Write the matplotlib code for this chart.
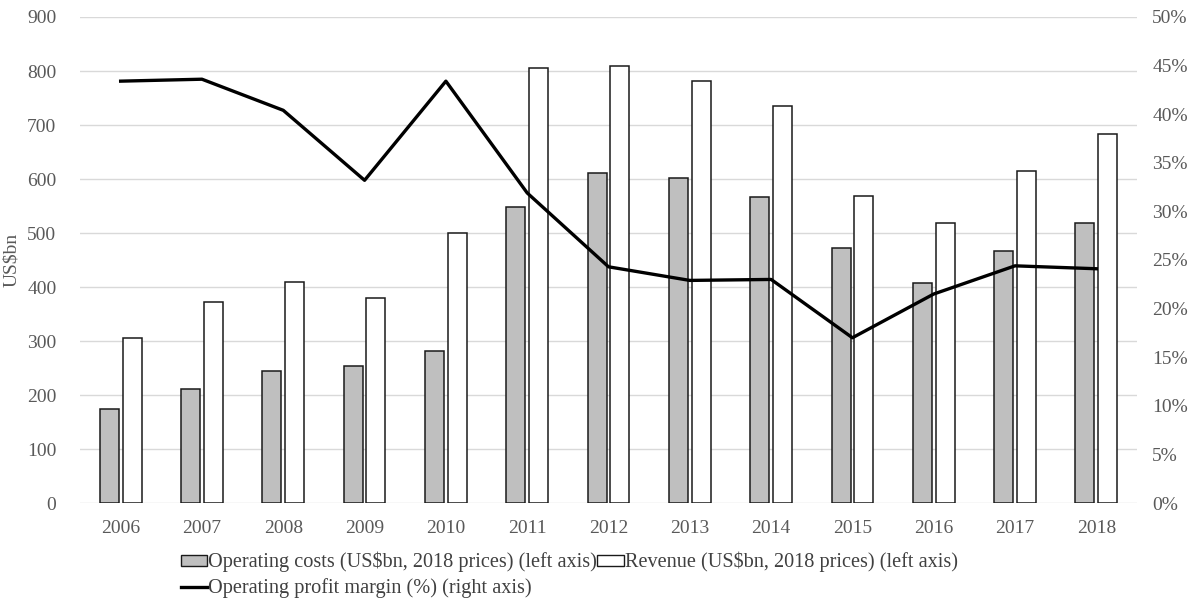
import matplotlib
matplotlib.use("Agg")
import matplotlib.pyplot as plt
import numpy as np
from matplotlib.patches import Patch
from matplotlib.lines import Line2D

years = ["2006", "2007", "2008", "2009", "2010", "2011", "2012",
         "2013", "2014", "2015", "2016", "2017", "2018"]
operating_costs = [174, 211, 244, 253, 282, 549, 611, 601, 567, 473, 408, 466, 518]
revenue = [305, 373, 410, 379, 500, 806, 809, 781, 736, 569, 518, 615, 684]
profit_margin = [43.4, 43.6, 40.4, 33.2, 43.4, 31.9, 24.3, 22.9, 23.0, 17.0, 21.5, 24.4, 24.1]

left_ticks = list(range(0, 901, 100))
right_ticks = list(range(0, 51, 5))

plt.rcParams['font.family'] = ['Liberation Serif', 'DejaVu Serif']
FS = 14
LFS = 14.6

fig = plt.figure(figsize=(11.96, 6.02), dpi=100)
ax = fig.add_axes([80/1196, 1-503/602, (1137-80)/1196, (503-17)/602])
ax2 = ax.twinx()

x = np.arange(len(years))
w = 0.234
off = 0.14
ax.bar(x - off, operating_costs, width=w, color='#bfbfbf', edgecolor='#1a1a1a', linewidth=1.1, zorder=3)
ax.bar(x + off, revenue, width=w, color='white', edgecolor='#1a1a1a', linewidth=1.1, zorder=3)

ax.set_ylim(0, 900)
ax.set_yticks(left_ticks)
ax.set_xlim(-0.5, len(years) - 0.5)
ax.set_xticks(x)
ax.set_xticklabels(years)
ax.grid(axis='y', color='#d9d9d9', linewidth=1, zorder=0)
ax.set_axisbelow(True)
for s in ax.spines.values():
    s.set_visible(False)
ax.tick_params(axis='both', length=0, colors='#595959', labelsize=FS)
ax.tick_params(axis='y', pad=17)
ax.tick_params(axis='x', pad=12)
ax.set_ylabel("US$bn", color='#595959', fontsize=FS)
ax.yaxis.set_label_coords(-60/1057, 0.5)

ax2.plot(x, profit_margin, color='black', linewidth=2.4, zorder=5)
ax2.set_ylim(0, 50)
ax2.set_yticks(right_ticks)
ax2.set_yticklabels([f"{t}%" for t in right_ticks])
for s in ax2.spines.values():
    s.set_visible(False)
ax2.tick_params(axis='y', length=0, colors='#595959', labelsize=FS, pad=11)

handles = [
    Patch(facecolor='#bfbfbf', edgecolor='#1a1a1a', linewidth=1),
    Line2D([0], [0], color='black', linewidth=2.4),
    Patch(facecolor='white', edgecolor='#1a1a1a', linewidth=1),
]
labels = [
    "Operating costs (US$bn, 2018 prices) (left axis)",
    "Operating profit margin (%) (right axis)",
    "Revenue (US$bn, 2018 prices) (left axis)",
]
leg = fig.legend(handles, labels, ncol=2, loc='upper left',
                 bbox_to_anchor=(181/1196, 1-552/602), frameon=False,
                 handlelength=1.3, handleheight=0.5, handletextpad=0.05,
                 columnspacing=0.0, labelspacing=0.3, borderpad=0,
                 borderaxespad=0, fontsize=LFS, labelcolor='#404040')

fig.savefig("out.png", dpi=100)
